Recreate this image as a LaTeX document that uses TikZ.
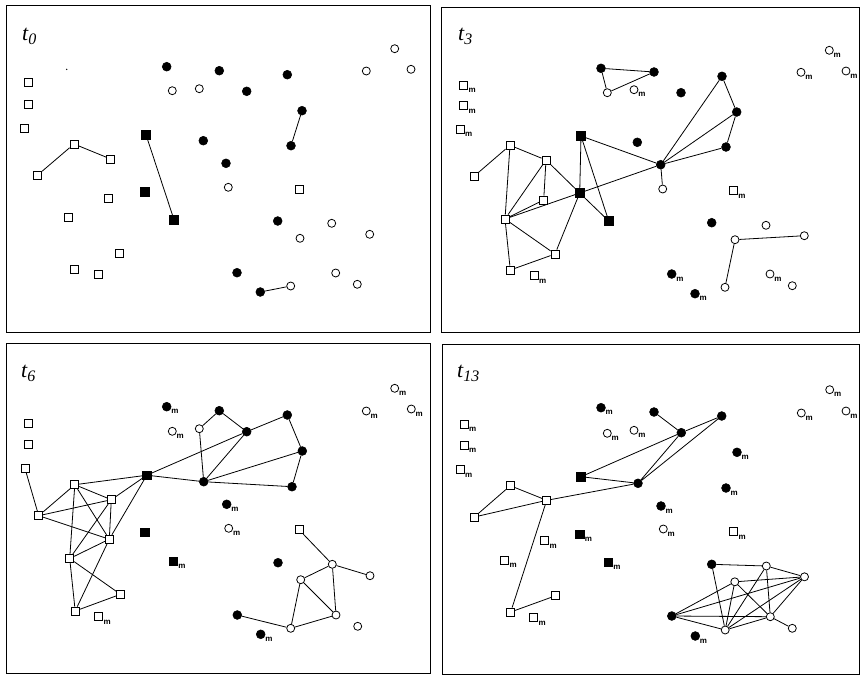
\documentclass[tikz,border=0pt]{standalone}
\usepackage{fontspec}
\setmainfont{Liberation Serif}
\newfontfamily\msans{Liberation Sans}
\newcommand{\tlab}[1]{{\fontsize{22}{22}\selectfont\itshape t}\raisebox{-4pt}{\fontsize{16}{16}\selectfont\itshape #1}}
\begin{document}
\begin{tikzpicture}[x=1pt,y=-1pt,
  osq/.style={draw, fill=white, rectangle, minimum size=8pt, inner sep=0pt, line width=0.8pt},
  fsq/.style={draw, fill=black, rectangle, minimum size=8.5pt, inner sep=0pt, line width=0.6pt},
  oc/.style={draw, fill=white, circle, minimum size=8pt, inner sep=0pt, line width=0.8pt},
  fc/.style={draw, fill=black, circle, minimum size=8.8pt, inner sep=0pt, line width=0.6pt},
  mlab/.style={font={\msans\bfseries\fontsize{8}{8}\selectfont}, inner sep=0.4pt},
  mm/.style={label={[mlab]-30:m}},
  frame/.style={draw, line width=1.3pt},
  tl/.style={anchor=base west, inner sep=0pt},
  ed/.style={line width=0.8pt}]
\useasboundingbox (0,0) rectangle (861,675);
\fill[white] (0,0) rectangle (861,675);
% frames
\node[frame, minimum width=424pt, minimum height=327pt, anchor=north west, inner sep=0pt] (fr1) at (6,5) {};
\node[frame, minimum width=418pt, minimum height=325pt, anchor=north west, inner sep=0pt] (fr2) at (441,7) {};
\node[frame, minimum width=424pt, minimum height=330pt, anchor=north west, inner sep=0pt] (fr3) at (6,343) {};
\node[frame, minimum width=417pt, minimum height=330pt, anchor=north west, inner sep=0pt] (fr4) at (442,344) {};
\node[tl] (t0) at (22,40) {\tlab{0}};
\node[tl] (t3) at (458,40) {\tlab{3}};
\node[tl] (t6) at (21,377) {\tlab{6}};
\node[tl] (t13) at (457,377) {\tlab{13}};

% ================= panel t0 =================
\node[fill=black, circle, inner sep=0pt, minimum size=1.5pt] (adot) at (66.7,69.3) {};
\node[osq] (a1) at (28.3,82.7) {};
\node[osq] (a2) at (28.3,104) {};
\node[osq] (a3) at (24,128) {};
\node[osq] (a4) at (74,144) {};
\node[osq] (a5) at (110.7,159) {};
\node[osq] (a6) at (37.7,175) {};
\node[osq] (a7) at (108.3,198.3) {};
\node[osq] (a8) at (68.7,217.3) {};
\node[osq] (a9) at (119.3,253) {};
\node[osq] (a10) at (74.3,269) {};
\node[osq] (a11) at (98,274.3) {};
\node[osq] (a12) at (299,189) {};
\node[fsq] (aF1) at (146,134.7) {};
\node[fsq] (aF2) at (144.7,191.7) {};
\node[fsq] (aF3) at (174,219.7) {};
\node[fc] (ab1) at (166.7,66.7) {};
\node[fc] (ab2) at (219.3,70.7) {};
\node[fc] (ab3) at (246.7,91.3) {};
\node[fc] (ab4) at (287.3,74.7) {};
\node[fc] (ab5) at (302,110.7) {};
\node[fc] (ab6) at (291,145.7) {};
\node[fc] (ab7) at (203.3,140.7) {};
\node[fc] (ab8) at (226,163.3) {};
\node[fc] (ab9) at (277.7,221) {};
\node[fc] (ab10) at (237,272.7) {};
\node[fc] (ab11) at (260.3,292) {};
\node[oc] (ao1) at (172.3,90.7) {};
\node[oc] (ao2) at (199.3,88.7) {};
\node[oc] (ao3) at (228.3,187.3) {};
\node[oc] (ao4) at (394.7,48.7) {};
\node[oc] (ao5) at (366.3,71) {};
\node[oc] (ao6) at (411,69.3) {};
\node[oc] (ao7) at (331.7,223.3) {};
\node[oc] (ao8) at (300,238.3) {};
\node[oc] (ao9) at (369.7,234.3) {};
\node[oc] (ao10) at (335.7,273) {};
\node[oc] (ao11) at (357.3,284.3) {};
\node[oc] (ao12) at (290.7,286) {};
\draw[ed] (a6) -- (a4) -- (a5);
\draw[ed] (aF1) -- (aF3);
\draw[ed] (ab5) -- (ab6);
\draw[ed] (ab11) -- (ao12);

% ================= panel t3 =================
\node[osq, mm] (b1) at (463.7,85) {};
\node[osq, mm] (b2) at (463.7,105.7) {};
\node[osq, mm] (b3) at (460,129) {};
\node[osq] (b4) at (510,145.3) {};
\node[osq] (b5) at (546,160) {};
\node[osq] (b6) at (474,176.3) {};
\node[osq] (b7) at (543.7,200) {};
\node[osq] (b8) at (505,219) {};
\node[osq] (b9) at (555,254) {};
\node[osq] (b10) at (510.3,270) {};
\node[osq, mm] (b11) at (534,275.7) {};
\node[osq, mm] (b12) at (733.3,190.7) {};
\node[fsq] (bF1) at (581,136) {};
\node[fsq] (bF2) at (579.7,193) {};
\node[fsq] (bF3) at (608.7,221) {};
\node[fc] (bb1) at (601,68.3) {};
\node[fc] (bb2) at (654,72) {};
\node[fc] (bb3) at (681,92.7) {};
\node[fc] (bb4) at (722,76.3) {};
\node[fc] (bb5) at (736.7,112) {};
\node[fc] (bb6) at (726,147) {};
\node[fc] (bb7) at (637.3,142.3) {};
\node[fc] (bb8) at (660.7,164.7) {};
\node[fc] (bb9) at (711.7,222.7) {};
\node[fc, mm] (bb10) at (671.7,274) {};
\node[fc, mm] (bb11) at (695,293.7) {};
\node[oc] (bo1) at (607.3,92.7) {};
\node[oc, mm] (bo2) at (634,89.7) {};
\node[oc] (bo3) at (662.7,189) {};
\node[oc, mm] (bo4) at (829.3,50.3) {};
\node[oc, mm] (bo5) at (801,72.3) {};
\node[oc, mm] (bo6) at (846,71) {};
\node[oc] (bo7) at (766,225.3) {};
\node[oc] (bo8) at (735,239.7) {};
\node[oc] (bo9) at (804.3,235.7) {};
\node[oc, mm] (bo10) at (770,274) {};
\node[oc] (bo11) at (792.3,285.7) {};
\node[oc] (bo12) at (725,287.3) {};
\draw[ed] (bb1) -- (bb2) -- (bo1) -- (bb1);
\foreach \t in {bF1,bb4,bb5,bb6,bo3,bF2} \draw[ed] (bb8) -- (\t);
\draw[ed] (bb4) -- (bb5) -- (bb6);
\draw[ed] (bF1) -- (bF2) -- (bF3) -- (bF1);
\draw[ed] (b6) -- (b4) -- (b5);
\draw[ed] (b4) -- (b8);
\draw[ed] (b5) -- (b7);
\draw[ed] (b5) -- (b8);
\draw[ed] (b5) -- (bF2);
\draw[ed] (b8) -- (b7);
\draw[ed] (b8) -- (bF2);
\draw[ed] (b8) -- (b9);
\draw[ed] (b8) -- (b10) -- (b9) -- (bF2);
\draw[ed] (bo9) -- (bo8) -- (bo12);

% ================= panel t6 =================
\node[osq] (c1) at (28.7,423) {};
\node[osq] (c2) at (28.7,444) {};
\node[osq] (c3) at (25,468.5) {};
\node[osq] (c4) at (74.8,484.7) {};
\node[osq] (c5) at (111.3,499.7) {};
\node[osq] (c6) at (38.7,515.7) {};
\node[osq] (c7) at (109.3,539.2) {};
\node[osq] (c8) at (69.7,558.5) {};
\node[osq] (c9) at (120.5,594.3) {};
\node[osq] (c10) at (75.2,611) {};
\node[osq, mm] (c11) at (98.7,616.7) {};
\node[osq] (c12) at (299,529.7) {};
\node[fsq] (cF1) at (146.8,475.2) {};
\node[fsq] (cF2) at (145,532.5) {};
\node[fsq, mm] (cF3) at (173.3,561.3) {};
\node[fc, mm] (cb1) at (166.7,406.7) {};
\node[fc] (cb2) at (219.3,410.7) {};
\node[fc] (cb3) at (246.7,431.7) {};
\node[fc] (cb4) at (287.3,415) {};
\node[fc] (cb5) at (302.3,451) {};
\node[fc] (cb6) at (292,486.7) {};
\node[fc] (cb7) at (203.7,481.7) {};
\node[fc, mm] (cb8) at (226.7,504.3) {};
\node[fc] (cb9) at (278,562.7) {};
\node[fc] (cb10) at (237.3,615) {};
\node[fc, mm] (cb11) at (260.7,634.3) {};
\node[oc, mm] (co1) at (172.3,431.3) {};
\node[oc] (co2) at (199.3,428.7) {};
\node[oc, mm] (co3) at (228.7,528.3) {};
\node[oc, mm] (co4) at (394.7,388.3) {};
\node[oc, mm] (co5) at (366.3,411) {};
\node[oc, mm] (co6) at (411.3,409) {};
\node[oc] (co7) at (332.3,564.3) {};
\node[oc] (co8) at (300.7,579.7) {};
\node[oc] (co9) at (370,575.7) {};
\node[oc] (co10) at (336,615) {};
\node[oc] (co11) at (357.7,626.3) {};
\node[oc] (co12) at (290.7,628.3) {};
\draw[ed] (co2) -- (cb2) -- (cb3) -- (cb4) -- (cb5) -- (cb6);
\draw[ed] (co2) -- (cb7);
\draw[ed] (cF1) -- (cb3);
\foreach \t in {cb3,cb5,cb6,cF1} \draw[ed] (cb7) -- (\t);
\foreach \t in {c4,c5,c7} \draw[ed] (cF1) -- (\t);
\draw[ed] (c3) -- (c6);
\draw[ed] (c4) -- (c6); \draw[ed] (c4) -- (c5); \draw[ed] (c4) -- (c7); \draw[ed] (c4) -- (c8);
\draw[ed] (c6) -- (c5); \draw[ed] (c6) -- (c7);
\draw[ed] (c5) -- (c7); \draw[ed] (c5) -- (c8);
\draw[ed] (c7) -- (c8); \draw[ed] (c7) -- (c10);
\draw[ed] (c8) -- (c9); \draw[ed] (c8) -- (c10); \draw[ed] (c10) -- (c9);
\draw[ed] (c12) -- (co7) -- (co9);
\draw[ed] (co7) -- (co8); \draw[ed] (co7) -- (co10);
\draw[ed] (co8) -- (co10); \draw[ed] (co8) -- (co12);
\draw[ed] (co12) -- (co10);
\draw[ed] (cb10) -- (co12);

% ================= panel t13 =================
\node[osq, mm] (d1) at (464,424.3) {};
\node[osq, mm] (d2) at (464,445) {};
\node[osq, mm] (d3) at (460,469.7) {};
\node[osq, mm] (d4) at (544.7,540.7) {};
\node[osq, mm] (d5) at (504.7,560.3) {};
\node[osq, mm] (d6) at (533.7,617.7) {};
\node[osq, mm] (d7) at (733.7,531.7) {};
\node[osq] (d8) at (510.3,485.7) {};
\node[osq] (d9) at (546.7,500.3) {};
\node[osq] (d10) at (474.3,517) {};
\node[osq] (d11) at (555.7,595.7) {};
\node[osq] (d12) at (510.7,612) {};
\node[fsq] (dF1) at (581,476.7) {};
\node[fsq, mm] (dF2) at (579.7,534.3) {};
\node[fsq, mm] (dF3) at (608.3,562.3) {};
\node[fc, mm] (db1) at (601,407.7) {};
\node[fc] (db2) at (654,412) {};
\node[fc] (db3) at (681.3,432.7) {};
\node[fc] (db4) at (721.7,416) {};
\node[fc, mm] (db5) at (737,452.3) {};
\node[fc, mm] (db6) at (726,488) {};
\node[fc] (db7) at (638,483.3) {};
\node[fc, mm] (db8) at (661,506) {};
\node[fc] (db9) at (711.7,564.3) {};
\node[fc] (db10) at (671.8,616) {};
\node[fc, mm] (db11) at (695.3,636) {};
\node[oc, mm] (do1) at (607.3,433.3) {};
\node[oc, mm] (do2) at (634,430.3) {};
\node[oc, mm] (do3) at (663.3,529) {};
\node[oc, mm] (do4) at (829.7,389.7) {};
\node[oc, mm] (do5) at (801.3,413) {};
\node[oc, mm] (do6) at (846,411) {};
\node[oc] (do7) at (766.3,566) {};
\node[oc] (do8) at (734.8,581.8) {};
\node[oc] (do9) at (804.5,576.8) {};
\node[oc] (do10) at (770.3,616.7) {};
\node[oc] (do11) at (725.2,630) {};
\node[oc] (do12) at (792.3,628.3) {};
\draw[ed] (db2) -- (db3) -- (db4) -- (db7) -- (db3);
\draw[ed] (db3) -- (dF1) -- (db7) -- (d9);
\draw[ed] (d8) -- (d9) -- (d10) -- (d8);
\draw[ed] (d9) -- (d12) -- (d11);
\draw[ed] (db9) -- (do7); \draw[ed] (db9) -- (do11);
\draw[ed] (do7) -- (do9); \draw[ed] (do7) -- (do11); \draw[ed] (do7) -- (do10);
\draw[ed] (do8) -- (do9); \draw[ed] (do8) -- (do11); \draw[ed] (do8) -- (do10);
\foreach \t in {do8,do9,do10,do11} \draw[ed] (db10) -- (\t);
\draw[ed] (do11) -- (do9); \draw[ed] (do11) -- (do10);
\draw[ed] (do10) -- (do9); \draw[ed] (do10) -- (do12);
\end{tikzpicture}
\end{document}
